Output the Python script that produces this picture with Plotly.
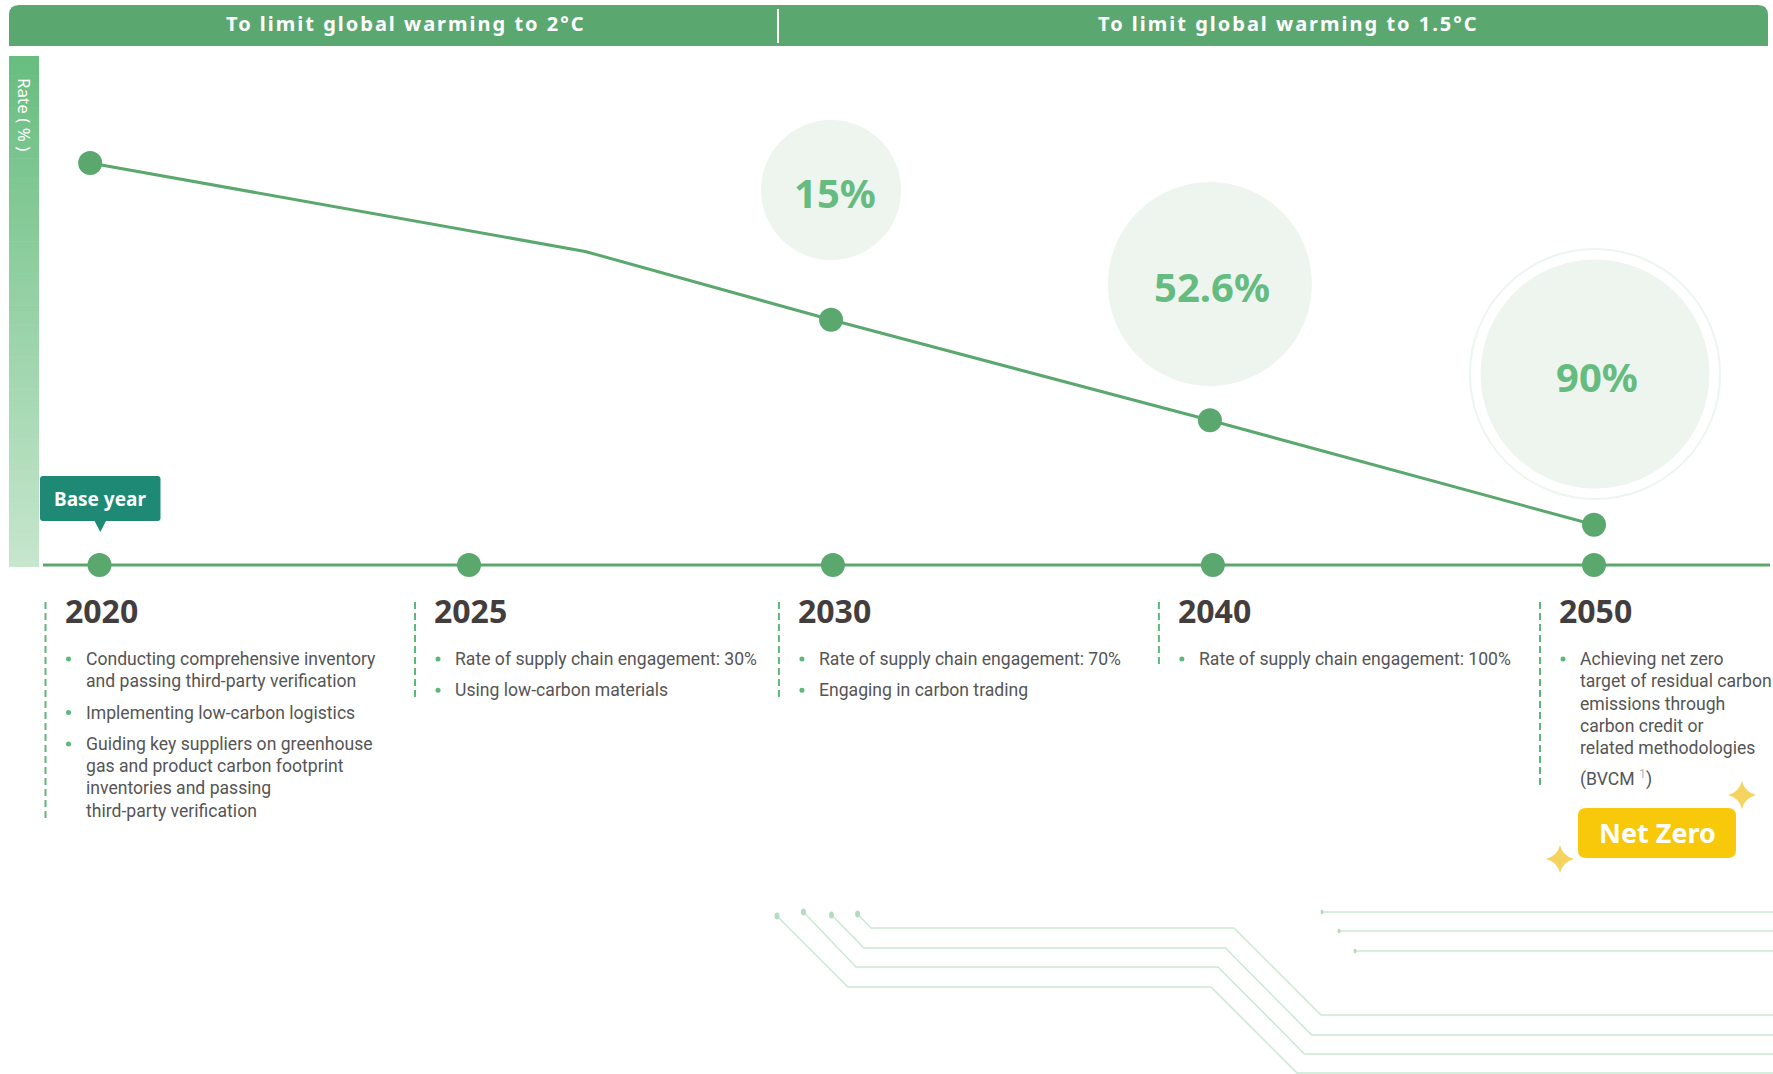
import plotly.graph_objects as go

W, H = 1773, 1074

# ---------------- data ----------------
years = ["2020", "2025", "2030", "2040", "2050"]
# timeline position of each milestone (unit = one column)
year_pos = [0, 0.989, 1.963, 2.980, 4.0]

# emission-rate path (relative level), drawn above the timeline
path_pos = [-0.025, 1.30, 1.958, 2.972, 4.0]
path_level = [100, 78, 61, 36, 10]
path_marked = [True, False, True, True, True]

# reduction targets shown in bubbles (2030, 2040, 2050)
target_pos = [1.958, 2.972, 4.0]
target_labels = ["15%", "52.6%", "90%"]

phase_labels = ["To limit global warming to 2°C", "To limit global warming to 1.5°C"]

actions = [
    [["Conducting comprehensive inventory", "and passing third-party verification"],
     ["Implementing low-carbon logistics"],
     ["Guiding key suppliers on greenhouse", "gas and product carbon footprint",
      "inventories and passing", "third-party verification"]],
    [["Rate of supply chain engagement: 30%"], ["Using low-carbon materials"]],
    [["Rate of supply chain engagement: 70%"], ["Engaging in carbon trading"]],
    [["Rate of supply chain engagement: 100%"]],
    [["Achieving net zero", "target of residual carbon", "emissions through",
      "carbon credit or", "related methodologies",
      "(BVCM <sup><span style='color:#b5b5b5'>1</span></sup>)"]],
]

# ---------------- styles ----------------
GREEN = "#5aa86e"
HEADER = "#5aa870"
BUBBLE = "#edf5ee"
BUBBLE_TXT = "#66bc80"
TEAL = "#1e8a76"
DASH = "#5cb87a"
TXT = "#555555"
YEAR_TXT = "#433e3d"
YELLOW = "#f8c80a"
STAR = "#f4d35e"
DECO = "#cbe8d3"

# axis scaling: column step in pixels and level step in pixels
X0_PX, X_STEP = 99.5, 373.625
Y0_PX, Y_STEP = 565.0, 4.02
x_range = [-X0_PX / X_STEP, (W - X0_PX) / X_STEP]
y_range = [(Y0_PX - H) / Y_STEP, Y0_PX / Y_STEP]


def px(x):
    return x / W


def py(y):
    return 1 - y / H


fig = go.Figure()

# main emission path
fig.add_trace(go.Scatter(x=path_pos, y=path_level, mode="lines",
                         line=dict(color=GREEN, width=3), hoverinfo="skip"))
fig.add_trace(go.Scatter(
    x=[p for p, m in zip(path_pos, path_marked) if m],
    y=[v for v, m in zip(path_level, path_marked) if m],
    mode="markers", marker=dict(color=GREEN, size=24), hoverinfo="skip"))

# timeline dots
fig.add_trace(go.Scatter(x=year_pos, y=[0] * len(year_pos), mode="markers",
                         marker=dict(color=GREEN, size=24), hoverinfo="skip"))

shapes = []
annotations = []

# header bar with rounded top corners
hx0, hx1, hy0, hy1, r = 9, 1768, 5, 46, 10
shapes.append(dict(
    type="path", xref="paper", yref="paper", layer="above",
    path=(f"M{px(hx0)},{py(hy1)} L{px(hx0)},{py(hy0 + r)} "
          f"Q{px(hx0)},{py(hy0)} {px(hx0 + r)},{py(hy0)} "
          f"L{px(hx1 - r)},{py(hy0)} Q{px(hx1)},{py(hy0)} {px(hx1)},{py(hy0 + r)} "
          f"L{px(hx1)},{py(hy1)} Z"),
    fillcolor=HEADER, line=dict(width=0)))
shapes.append(dict(type="line", xref="paper", yref="paper", layer="above",
                   x0=px(778), x1=px(778), y0=py(9), y1=py(43),
                   line=dict(color="white", width=2)))
for label, cx in zip(phase_labels, [406, 1288]):
    annotations.append(dict(text=f"<span style='letter-spacing:2px'>{label}</span>",
                            xref="paper", yref="paper", x=px(cx), y=py(24),
                            showarrow=False, xanchor="center", yanchor="middle",
                            font=dict(family="Noto Sans", size=20, color="white", weight="bold")))

# left gradient bar for the rate axis
top_rgb, bot_rgb = (104, 189, 128), (198, 230, 205)
bx0, bx1, by0, by1 = 9, 39, 56, 567
n = 80
for k in range(n):
    t = k / (n - 1)
    c = tuple(round(a + (b - a) * t) for a, b in zip(top_rgb, bot_rgb))
    ya = by0 + (by1 - by0) * k / n
    yb = by0 + (by1 - by0) * (k + 1) / n + 0.6
    shapes.append(dict(type="rect", xref="paper", yref="paper", layer="below",
                       x0=px(bx0), x1=px(bx1), y0=py(ya), y1=py(min(yb, by1)),
                       fillcolor=f"rgb{c}", line=dict(width=0)))
annotations.append(dict(text="Rate ( % )", xref="paper", yref="paper", x=px(25), y=py(114),
                        showarrow=False, textangle=90, xanchor="center", yanchor="middle",
                        font=dict(family="Noto Sans", size=17, color="white")))

# baseline
shapes.append(dict(type="line", xref="paper", yref="y", layer="below",
                   x0=px(43), x1=px(1770), y0=0, y1=0,
                   line=dict(color=GREEN, width=3)))

# reduction bubbles (pixel-sized, anchored to the path points)
bubble_geo = [(0, 190, 70, 4), (0, 284, 102, 2), (1, 374, 114.5, 3)]
for pos, label, (dx, cy, rad, tdx) in zip(target_pos, target_labels, bubble_geo):
    if label == target_labels[-1]:
        shapes.append(dict(type="circle", xref="x", xsizemode="pixel", xanchor=pos,
                           yref="paper", ysizemode="pixel", yanchor=py(cy), layer="below",
                           x0=dx - 125, x1=dx + 125, y0=-125, y1=125,
                           fillcolor="rgba(0,0,0,0)", line=dict(color="#eef5f0", width=2)))
    shapes.append(dict(type="circle", xref="x", xsizemode="pixel", xanchor=pos,
                       yref="paper", ysizemode="pixel", yanchor=py(cy), layer="below",
                       x0=dx - rad, x1=dx + rad, y0=-rad, y1=rad,
                       fillcolor=BUBBLE, line=dict(width=0)))
    annotations.append(dict(text=label, xref="x", x=pos, xshift=tdx, yref="paper",
                            y=py(cy + 2), showarrow=False, xanchor="center", yanchor="middle",
                            font=dict(family="Noto Sans", size=40, color=BUBBLE_TXT,
                                      weight="bold")))

# base year tag
shapes.append(dict(type="path", xref="paper", yref="paper", layer="above",
                   path=(f"M{px(43)},{py(476)} L{px(157.5)},{py(476)} "
                         f"Q{px(160.5)},{py(476)} {px(160.5)},{py(479)} "
                         f"L{px(160.5)},{py(518)} Q{px(160.5)},{py(521)} {px(157.5)},{py(521)} "
                         f"L{px(106)},{py(521)} L{px(100.3)},{py(532)} L{px(94.5)},{py(521)} "
                         f"L{px(43)},{py(521)} Q{px(40)},{py(521)} {px(40)},{py(518)} "
                         f"L{px(40)},{py(479)} Q{px(40)},{py(476)} {px(43)},{py(476)} Z"),
                   fillcolor=TEAL, line=dict(width=0)))
annotations.append(dict(text="Base year", xref="paper", yref="paper", x=px(100), y=py(499),
                        showarrow=False, xanchor="center", yanchor="middle",
                        font=dict(family="Noto Sans", size=19, color="white", weight="bold")))

# milestone columns: dashed guide, year, bullet list
LINE_STEP, ITEM_GAP, FIRST_Y, SUP_EXTRA = 22.3, 9, 659, 8
for pos, year, items in zip(year_pos, years, actions):
    annotations.append(dict(text=year, xref="x", x=pos, xshift=-37, yref="paper", y=py(610),
                            showarrow=False, xanchor="left", yanchor="middle",
                            font=dict(family="Noto Sans", size=32, color=YEAR_TXT,
                                      weight="bold")))
    y = FIRST_Y
    last = y
    for item in items:
        shapes.append(dict(type="circle", xref="x", xsizemode="pixel", xanchor=pos,
                           yref="paper", ysizemode="pixel", yanchor=py(y),
                           x0=-33.5, x1=-28.5, y0=-2.5, y1=2.5,
                           fillcolor=DASH, line=dict(width=0)))
        for line in item:
            ly = y + (SUP_EXTRA if "<sup>" in line else 0)
            annotations.append(dict(text=line, xref="x", x=pos, xshift=-16, yref="paper",
                                    y=py(ly), showarrow=False, xanchor="left", yanchor="middle",
                                    font=dict(family="Roboto", size=17.6, color=TXT)))
            last = ly
            y += LINE_STEP
        y += ITEM_GAP
    shapes.append(dict(type="line", xref="x", xsizemode="pixel", xanchor=pos,
                       yref="paper", x0=-54, x1=-54, y0=py(602), y1=py(last + 9),
                       line=dict(color=DASH, width=2, dash="7px,4px")))

# net zero badge and sparkles
nx0, nx1, ny0, ny1, nr = 1578, 1736, 808, 858, 8
shapes.append(dict(type="path", xref="paper", yref="paper",
                   path=(f"M{px(nx0 + nr)},{py(ny0)} L{px(nx1 - nr)},{py(ny0)} "
                         f"Q{px(nx1)},{py(ny0)} {px(nx1)},{py(ny0 + nr)} "
                         f"L{px(nx1)},{py(ny1 - nr)} Q{px(nx1)},{py(ny1)} {px(nx1 - nr)},{py(ny1)} "
                         f"L{px(nx0 + nr)},{py(ny1)} Q{px(nx0)},{py(ny1)} {px(nx0)},{py(ny1 - nr)} "
                         f"L{px(nx0)},{py(ny0 + nr)} Q{px(nx0)},{py(ny0)} {px(nx0 + nr)},{py(ny0)} Z"),
                   fillcolor=YELLOW, line=dict(width=0)))
annotations.append(dict(text="Net Zero", xref="paper", yref="paper", x=px(1657), y=py(832),
                        showarrow=False, xanchor="center", yanchor="middle",
                        font=dict(family="Noto Sans", size=27, color="white", weight="bold")))


def sparkle(cx, cy, w, h, k=0.2):
    return (f"M{px(cx)},{py(cy - h)} Q{px(cx + k * w)},{py(cy - k * h)} {px(cx + w)},{py(cy)} "
            f"Q{px(cx + k * w)},{py(cy + k * h)} {px(cx)},{py(cy + h)} "
            f"Q{px(cx - k * w)},{py(cy + k * h)} {px(cx - w)},{py(cy)} "
            f"Q{px(cx - k * w)},{py(cy - k * h)} {px(cx)},{py(cy - h)} Z")


for cx, cy in [(1742, 795), (1560, 859)]:
    shapes.append(dict(type="path", xref="paper", yref="paper", path=sparkle(cx, cy, 14, 14),
                       fillcolor=STAR, line=dict(width=0)))

# circuit-style decoration at the bottom
traces_px = [
    [(777, 916), (848, 987), (1211, 987), (1297, 1073), (1773, 1073)],
    [(803.5, 912), (856, 967), (1218, 967), (1304.5, 1054), (1773, 1054)],
    [(831.5, 915), (864, 948), (1225.5, 948), (1311.6, 1035), (1773, 1035)],
    [(857.6, 914), (871, 928), (1234, 928), (1321, 1015), (1773, 1015)],
    [(1322, 912), (1773, 912)],
    [(1339, 931), (1773, 931)],
    [(1355, 951), (1773, 951)],
]
for pts in traces_px:
    path = "M" + " L".join(f"{px(x)},{py(y)}" for x, y in pts)
    shapes.append(dict(type="path", xref="paper", yref="paper", layer="below", path=path,
                       line=dict(color=DECO, width=1.5)))
    x, y = pts[0]
    rad = 2.5 if len(pts) > 2 else 1.5
    shapes.append(dict(type="circle", xref="paper", yref="paper", layer="below",
                       x0=px(x - rad), x1=px(x + rad), y0=py(y - rad - 1), y1=py(y + rad + 1),
                       fillcolor="#b5dcc0", line=dict(width=0)))

fig.update_layout(
    width=W, height=H, autosize=False,
    margin=dict(l=0, r=0, t=0, b=0),
    paper_bgcolor="white", plot_bgcolor="white",
    showlegend=False, hovermode=False,
    xaxis=dict(range=x_range, visible=False, fixedrange=True),
    yaxis=dict(range=y_range, visible=False, fixedrange=True),
    shapes=shapes, annotations=annotations,
)

fig.write_html("out.html")
